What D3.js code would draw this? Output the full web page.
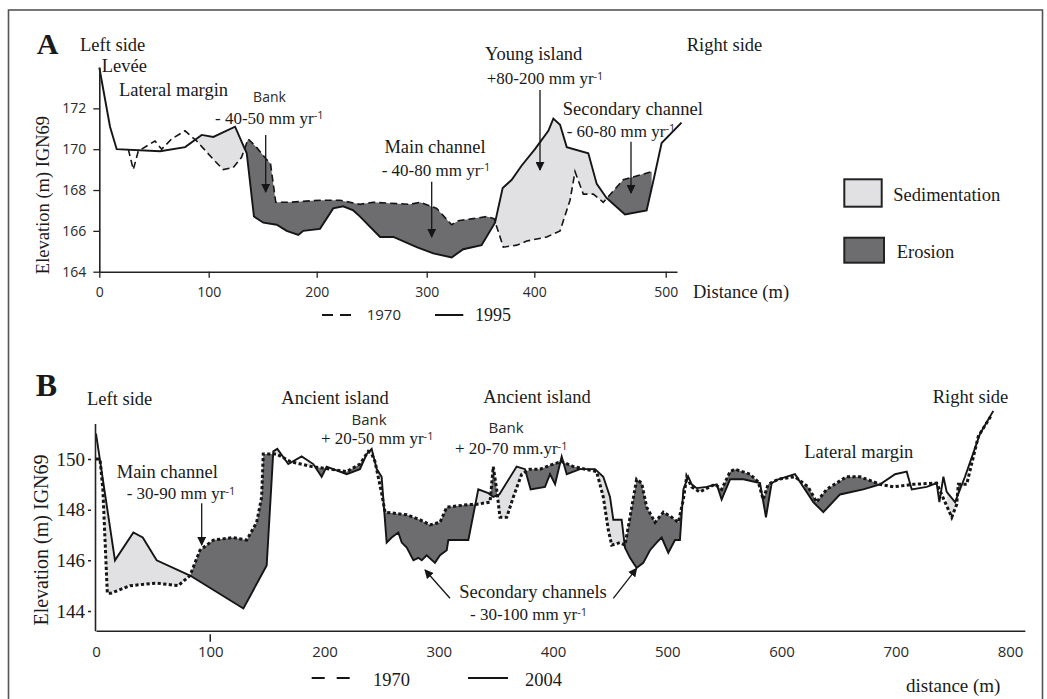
<!DOCTYPE html>
<html>
<head>
<meta charset="utf-8">
<script src="https://cdn.jsdelivr.net/npm/d3@7"></script>
<style>
  body { margin: 0; background: #fff; }
  svg { display: block; }
  .serif { font-family: "Liberation Serif", "Times New Roman", serif; fill: #1a1a1a; }
  .sans { font-family: "Open Sans", "DejaVu Sans", sans-serif; fill: #2a2a2a; }
</style>
</head>
<body>
<div id="chart"></div>
<script>
//---- Data ------------------------------------------------------------------------------------
// Panel A : cross-section, 1970 vs 1995
var distA1995 = [0, 9.8, 15.9, 55.6, 78.5, 93.6, 104.3, 124.4, 135.2, 141.9, 150.6, 163, 172.2, 183, 187.6, 203, 215, 224, 233.3, 239.4, 257.6, 269.7, 290.9, 306.1, 323.2, 334, 351, 363.5, 370.6, 379, 388.3, 400.5, 410.7, 414.5, 419.6, 424.7, 441.1, 447.5, 455.1, 469, 485.5, 491.8, 496.9, 514];
var elevA1995 = [174.0, 171.1, 170.0, 169.9, 170.1, 170.7, 170.6, 171.1, 169.8, 166.7, 166.4, 166.3, 166.0, 165.8, 166.0, 166.1, 167.1, 167.2, 167.0, 166.7, 165.7, 165.7, 165.2, 164.9, 164.7, 165.1, 165.3, 166.4, 168.1, 168.5, 169.2, 170.0, 170.9, 171.5, 171.2, 170.1, 169.8, 168.3, 167.6, 166.8, 167.0, 168.8, 170.3, 171.3];
var distA1970 = [26.5, 31.1, 35.6, 50.9, 57, 66.1, 78.3, 89, 104.3, 113.5, 122.7, 130.4, 136.5, 144.2, 153.5, 157.2, 162.1, 175, 203, 221, 239.4, 251.5, 284.8, 293.9, 309.3, 323.2, 329.4, 343.3, 355.8, 362.6, 368.2, 371.2, 383.7, 393, 409.4, 419.6, 427.2, 431, 437.3, 444.9, 452.5, 467.7, 489.3];
var elevA1970 = [170.0, 169.0, 169.9, 170.4, 170.0, 170.5, 170.9, 170.4, 169.5, 169.0, 169.1, 169.6, 170.5, 170.1, 169.5, 169.3, 167.4, 167.4, 167.5, 167.5, 167.3, 167.4, 167.3, 167.4, 167.1, 166.3, 166.5, 166.6, 166.7, 166.6, 165.7, 165.2, 165.3, 165.5, 165.7, 166.0, 167.5, 168.9, 167.8, 167.8, 167.4, 168.5, 168.9];
var ticksAx = [0, 100, 200, 300, 400, 500];
var ticksAy = [164, 166, 168, 170, 172];
var shadeA = [[88, 489.3]];

// Panel B : cross-section, 1970 vs 2004
var distB2004 = [0, 16.6, 32.7, 40.9, 53.1, 82.3, 129, 149.4, 155.2, 158.7, 168.3, 180, 190.2, 197.5, 201.9, 219.4, 231, 237, 241.3, 245.7, 250, 254.4, 258.8, 264.6, 267.6, 272, 277.8, 282.1, 285.1, 289.4, 296.7, 301.1, 307, 308.4, 325.9, 334.6, 343.4, 347.7, 353, 368.2, 375.5, 380.4, 393, 397.4, 401.8, 407.6, 412, 423.6, 436.8, 444, 449.9, 452.8, 460.1, 463, 467.4, 473.2, 479, 484.9, 490.7, 495.1, 500.9, 506.8, 511.1, 514.1, 518.4, 521.4, 525.8, 534.5, 543.3, 547.6, 555, 566.6, 581.2, 586.4, 591.4, 597.2, 611.8, 627.8, 636.6, 651.2, 671.6, 686.3, 699.4, 709.6, 714, 727.1, 735.8, 738.2, 741.7, 744.6, 751.9, 760.6, 773.8, 785.4];
var elevB2004 = [151.0, 146.0, 147.1, 146.9, 146.0, 145.4, 144.1, 145.8, 150.3, 150.4, 149.8, 150.1, 149.8, 149.3, 149.7, 149.4, 149.6, 150.2, 150.4, 149.6, 149.3, 146.7, 146.9, 147.1, 146.7, 146.5, 146.0, 146.1, 146.0, 146.2, 145.9, 146.2, 146.4, 146.8, 146.8, 148.8, 148.65, 148.5, 148.6, 149.7, 149.6, 148.8, 148.9, 149.4, 149.0, 150.1, 149.4, 149.6, 149.6, 149.3, 148.5, 147.6, 147.6, 146.5, 146.1, 145.7, 145.9, 146.4, 146.7, 146.9, 146.3, 146.8, 146.8, 148.8, 149.3, 149.0, 148.85, 148.9, 149.0, 148.4, 149.2, 149.2, 149.05, 147.7, 149.05, 149.2, 149.4, 148.3, 147.9, 148.6, 148.8, 149.0, 149.4, 149.5, 148.8, 148.9, 149.05, 148.3, 149.3, 148.7, 148.3, 149.3, 151.0, 151.9];
var distB1970 = [0, 3.5, 6, 9.9, 13, 29.8, 53, 72, 82.3, 91, 102.7, 120, 131.9, 140.6, 145, 146.4, 158, 170, 188.8, 204.8, 219.4, 231, 238.3, 241.3, 244.2, 250, 253, 272, 283.6, 292.3, 301.1, 307, 325.9, 331.7, 344.9, 347.7, 350.7, 353.6, 359.5, 365.3, 372.6, 379.9, 388.6, 400.3, 407.6, 417.8, 438.2, 444, 448.4, 451.4, 458.6, 463, 467.4, 473.2, 477.6, 482, 489.3, 496.6, 503.9, 509.7, 514.1, 517, 521.4, 528.4, 541.8, 547.6, 555, 559.3, 572.4, 579.6, 584, 588.3, 597.2, 611.8, 623.3, 630.7, 639.5, 657, 668.7, 686.3, 697.9, 715.4, 735.8, 749, 753.3, 754.8, 762.1, 772.3, 784];
var elevB1970 = [150.0, 150.0, 148.8, 144.7, 144.7, 145.0, 145.1, 145.0, 145.4, 146.4, 146.8, 146.9, 146.8, 147.5, 148.5, 150.2, 150.2, 149.9, 149.7, 149.6, 149.5, 149.8, 150.3, 150.2, 149.9, 148.65, 147.9, 147.8, 147.6, 147.4, 147.5, 148.1, 148.2, 148.2, 148.3, 149.7, 148.8, 147.7, 147.7, 148.5, 149.4, 149.6, 149.6, 149.8, 149.9, 149.7, 149.5, 148.5, 147.2, 146.6, 146.7, 146.6, 147.7, 149.2, 149.05, 148.1, 147.5, 147.9, 147.7, 147.5, 148.4, 149.3, 148.9, 148.7, 149.0, 148.8, 149.5, 149.6, 149.4, 149.1, 148.4, 149.0, 149.2, 149.3, 148.9, 148.3, 148.8, 149.3, 149.3, 149.0, 148.9, 149.0, 149.05, 147.7, 148.2, 149.0, 149.0, 150.9, 151.75];
var ticksBx = [0, 100, 200, 300, 400, 500, 600, 700, 800];
var ticksBy = [144, 146, 148, 150];
var shadeB = [[3, 160], [185, 590], [620, 690], [745, 758]];

var legendLabels = ["Sedimentation", "Erosion"];

//---- Setup -----------------------------------------------------------------------------------
var LIGHT = "#e1e1e3", DARK = "#6d6d70", INK = "#151515";
var SERIF = "serif", SANS = "sans";

var svg = d3.select("#chart").append("svg")
  .attr("width", 1047)
  .attr("height", 699);

// outer frame
svg.append("rect")
  .attr("x", 8.5).attr("y", 10).attr("width", 1034).attr("height", 720)
  .attr("fill", "none").attr("stroke", "#555").attr("stroke-width", 1.6);

function interpAt(xs, ys, v) {
  var i = d3.bisectLeft(xs, v);
  if (i <= 0) return ys[0];
  if (i >= xs.length) return ys[ys.length - 1];
  var t = (v - xs[i - 1]) / (xs[i] - xs[i - 1]);
  return ys[i - 1] + t * (ys[i] - ys[i - 1]);
}

// split the band between two profiles into pieces of constant sign
function diffPieces(xNew, yNew, xOld, yOld, lo, hi) {
  var grid = Array.from(new Set([lo, hi].concat(xNew, xOld)))
    .filter(v => v >= lo && v <= hi)
    .sort((a, b) => a - b);
  var pts = grid.map(v => ({ x: v, n: interpAt(xNew, yNew, v), o: interpAt(xOld, yOld, v) }));
  var pieces = [], cur = [pts[0]];
  for (var i = 1; i < pts.length; i++) {
    var p = pts[i - 1], q = pts[i];
    var dp = p.n - p.o, dq = q.n - q.o;
    if (dp * dq < 0) {
      var t = dp / (dp - dq);
      var c = { x: p.x + t * (q.x - p.x), n: p.n + t * (q.n - p.n) };
      c.o = c.n;
      cur.push(c);
      pieces.push(cur);
      cur = [c];
    }
    cur.push(q);
    if (Math.abs(dq) < 1e-9 && i < pts.length - 1) {   // profiles touch: close the piece here
      pieces.push(cur);
      cur = [q];
    }
  }
  pieces.push(cur);
  return pieces.map(pc => ({ pts: pc, gain: d3.sum(pc, d => d.n - d.o) > 0 }));
}

function label(x, y, txt, o) {
  o = o || {};
  var t = svg.append("text")
    .attr("class", o.family === SANS ? "sans" : "serif")
    .attr("x", x).attr("y", y).attr("dy", "0.35em")
    .attr("text-anchor", o.anchor || "start")
    .attr("font-size", o.size || 18.5)
    .attr("font-weight", o.weight || "normal")
    .text(txt);
  if (o.sup) {
    t.append("tspan")
      .attr("class", "sans")
      .attr("font-size", 11)
      .attr("dy", "-0.42em")
      .text(o.sup);
  }
  if (o.rotate) t.attr("transform", "rotate(-90," + x + "," + y + ")");
  return t;
}

svg.append("defs").append("marker")
  .attr("id", "head")
  .attr("viewBox", "0 0 10 10")
  .attr("refX", 9).attr("refY", 5)
  .attr("markerWidth", 9).attr("markerHeight", 9)
  .attr("markerUnits", "userSpaceOnUse")
  .attr("orient", "auto")
  .append("path").attr("d", "M0,0 L10,5 L0,10 Z").attr("fill", INK);

function arrow(x1, y1, x2, y2) {
  svg.append("line")
    .attr("x1", x1).attr("y1", y1).attr("x2", x2).attr("y2", y2)
    .attr("stroke", INK).attr("stroke-width", 1.3)
    .attr("marker-end", "url(#head)");
}

function drawProfiles(g, x, y, newX, newY, oldX, oldY, ranges, dashStyle, solidFirst) {
  var area = d3.area()
    .x(d => x(d.x))
    .y0(d => y(d.o))
    .y1(d => y(d.n));
  ranges.forEach(r => {
    g.append("g").selectAll("path")
      .data(diffPieces(newX, newY, oldX, oldY, r[0], r[1]))
      .join("path")
      .attr("d", d => area(d.pts))
      .attr("fill", d => d.gain ? LIGHT : DARK)
      .attr("stroke", "none");
  });
  var line = d3.line().x(d => x(d[0])).y(d => y(d[1]));
  var solid = () => g.append("path")
    .attr("d", line(d3.zip(newX, newY)))
    .attr("fill", "none").attr("stroke", INK)
    .attr("stroke-width", 1.9).attr("stroke-linejoin", "miter");
  var dashed = () => g.append("path")
    .attr("d", line(d3.zip(oldX, oldY)))
    .attr("fill", "none").attr("stroke", INK)
    .attr("stroke-width", dashStyle.width)
    .attr("stroke-dasharray", dashStyle.dash);
  if (solidFirst) { solid(); dashed(); } else { dashed(); solid(); }
}

//---- Panel A ---------------------------------------------------------------------------------
var xA = d3.scaleLinear()
  .domain([0, 100, 200, 300, 400, 500, 510])
  .range([99.3, 208.7, 316.7, 426.7, 534.3, 665.7, 677]);
var yA = d3.scaleLinear().domain([164, 174]).range([271.7, 67.5]);

var gA = svg.append("g");
drawProfiles(gA, xA, yA, distA1995, elevA1995, distA1970, elevA1970, shadeA,
  { width: 1.6, dash: "7,4" }, false);

var axA = gA.append("g")
  .attr("transform", "translate(0," + yA(164) + ")")
  .call(d3.axisBottom(xA).tickValues(ticksAx).tickSizeInner(6).tickSizeOuter(0).tickPadding(9));
var ayA = gA.append("g")
  .attr("transform", "translate(" + xA(0) + ",0)")
  .call(d3.axisLeft(yA).tickValues(ticksAy).tickSizeInner(6).tickSizeOuter(0).tickPadding(7));
[axA, ayA].forEach(a => {
  a.select(".domain").attr("stroke", "#222").attr("stroke-width", 1.6);
  a.selectAll(".tick line").attr("stroke", "#222").attr("stroke-width", 1.3);
  a.selectAll(".tick text").attr("class", "sans").attr("font-size", 14).attr("fill", "#333");
});

label(47.5, 43, "A", { size: 30, weight: "bold", anchor: "middle" });
label(80, 45, "Left side");
label(101.7, 66, "Levée");
label(119, 89.3, "Lateral margin");
label(269.5, 96.7, "Bank", { family: SANS, size: 14, anchor: "middle" });
label(215, 118, "- 40-50 mm yr", { size: 17, sup: "-1" });
arrow(265.7, 135, 265.7, 192);
label(435, 146.7, "Main channel", { anchor: "middle" });
label(381.7, 170, "- 40-80 mm yr", { size: 17, sup: "-1" });
arrow(431.7, 181.7, 431.7, 237);
label(533.7, 53.3, "Young island", { anchor: "middle" });
label(486.7, 78.3, "+80-200 mm yr", { size: 17, sup: "-1" });
arrow(540, 90, 540, 170);
label(562.7, 109, "Secondary channel");
label(566.7, 131, "- 60-80 mm yr", { size: 17, sup: "-1" });
arrow(631, 141.7, 631, 193);
label(686.7, 45, "Right side");
label(693, 291.7, "Distance (m)");
label(43, 195, "Elevation (m) IGN69", { anchor: "middle", rotate: true, size: 18.5 });

// legend A
svg.append("line").attr("x1", 322).attr("x2", 351).attr("y1", 315).attr("y2", 315)
  .attr("stroke", INK).attr("stroke-width", 2).attr("stroke-dasharray", "11,7");
label(366.7, 315, "1970", { family: SANS, size: 15 });
svg.append("line").attr("x1", 435).attr("x2", 463.3).attr("y1", 315).attr("y2", 315)
  .attr("stroke", INK).attr("stroke-width", 2);
label(475, 315, "1995", { size: 18 });

// legend boxes
var boxes = [
  { x: 844.3, y: 179.3, w: 37.4, h: 27.4, fill: LIGHT, tx: 893.3, ty: 195 },
  { x: 844.3, y: 237.7, w: 39.7, h: 25, fill: DARK, tx: 896.7, ty: 251.7 }
];
boxes.forEach((b, i) => {
  svg.append("rect").attr("x", b.x).attr("y", b.y).attr("width", b.w).attr("height", b.h)
    .attr("fill", b.fill).attr("stroke", "#222").attr("stroke-width", 2);
  label(b.tx, b.ty, legendLabels[i], { size: 18.5 });
});

//---- Panel B ---------------------------------------------------------------------------------
var xB = d3.scaleLinear().domain([0, 800]).range([96, 1010]);
var yB = d3.scaleLinear().domain([144, 150]).range([611, 459]);
var baseB = 143.22;

var gB = svg.append("g");
drawProfiles(gB, xB, yB, distB2004, elevB2004, distB1970, elevB1970, shadeB,
  { width: 3, dash: "3.2,2.4" }, true);

var xBaxis = d3.scaleLinear().domain([0, 813]).range([xB(0), xB(813)]);
var axB = gB.append("g")
  .attr("transform", "translate(0," + yB(baseB) + ")")
  .call(d3.axisBottom(xBaxis).tickValues(ticksBx).tickSize(0).tickPadding(16));
var yBaxis = d3.scaleLinear().domain([baseB, 151.4]).range([yB(baseB), yB(151.4)]);
var ayB = gB.append("g")
  .attr("transform", "translate(" + (xB(0) - 1) + ",0)")
  .call(d3.axisLeft(yBaxis).tickValues(ticksBy).tickSizeInner(7).tickSizeOuter(0).tickPadding(3));
[axB, ayB].forEach(a => {
  a.select(".domain").attr("stroke", "#222").attr("stroke-width", 1.6);
});
ayB.selectAll(".tick line").attr("stroke", "#222").attr("stroke-width", 1.5)
  .attr("stroke-dasharray", "0,4,3,10");
axB.selectAll(".tick text").attr("class", "sans").attr("font-size", 15).attr("fill", "#333");
ayB.selectAll(".tick text").attr("class", "serif").attr("font-size", 19).attr("fill", "#1a1a1a");
// lone tick mark under 100 m
gB.append("line")
  .attr("x1", xB(100)).attr("x2", xB(100))
  .attr("y1", yB(baseB) + 3.5).attr("y2", yB(baseB) + 11)
  .attr("stroke", "#222").attr("stroke-width", 1.5);

label(46.5, 385, "B", { size: 32, weight: "bold", anchor: "middle" });
label(87, 398.3, "Left side");
label(335, 398, "Ancient island", { anchor: "middle" });
label(537, 396.7, "Ancient island", { anchor: "middle" });
label(369, 420, "Bank", { family: SANS, size: 15, anchor: "middle" });
label(321, 438.3, "+ 20-50 mm yr", { size: 17, sup: "-1" });
label(506, 427.7, "Bank", { family: SANS, size: 15, anchor: "middle" });
label(455, 448.3, "+ 20-70 mm.yr", { size: 17, sup: "-1" });
label(116.7, 471.7, "Main channel");
label(126.7, 493.3, "- 30-90 mm yr", { size: 17, sup: "-1" });
arrow(201.7, 503.3, 201.7, 545);
label(459.3, 592, "Secondary channels", { size: 18.5 });
label(470, 614.5, "- 30-100 mm yr", { size: 17, sup: "-1" });
arrow(450, 598.3, 425, 570);
arrow(613.3, 598.3, 636.7, 568.3);
label(804.3, 451.7, "Lateral margin");
label(932.7, 396.7, "Right side");
label(906, 685, "distance (m)", { size: 19 });
label(41, 540, "Elevation (m) IGN69", { anchor: "middle", rotate: true, size: 20 });

// legend B
svg.append("line").attr("x1", 311.7).attr("x2", 350).attr("y1", 678).attr("y2", 678)
  .attr("stroke", INK).attr("stroke-width", 2).attr("stroke-dasharray", "13,12");
label(373, 680, "1970", { size: 18.5 });
svg.append("line").attr("x1", 468).attr("x2", 508).attr("y1", 678).attr("y2", 678)
  .attr("stroke", INK).attr("stroke-width", 2);
label(525, 680, "2004", { size: 18.5 });
</script>
</body>
</html>
